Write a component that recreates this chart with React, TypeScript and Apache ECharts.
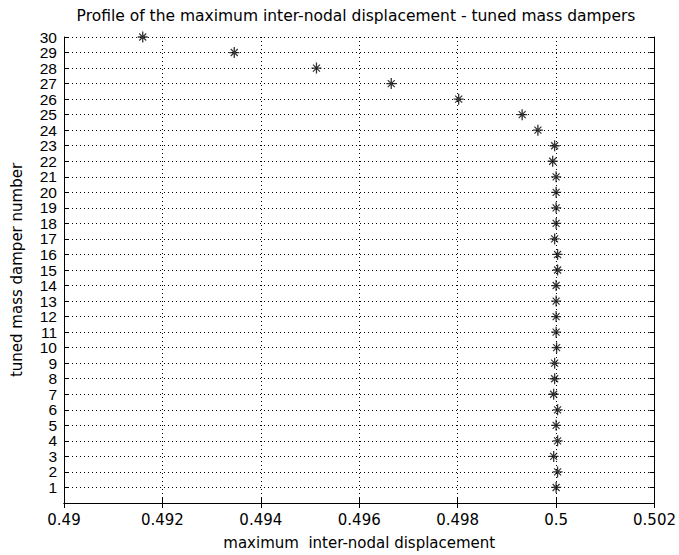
import React, { useEffect, useRef } from "react";
import * as echarts from "echarts";

const damperNumbers = [
  1, 2, 3, 4, 5, 6, 7, 8, 9, 10, 11, 12, 13, 14, 15,
  16, 17, 18, 19, 20, 21, 22, 23, 24, 25, 26, 27, 28, 29, 30,
];
const maxDisplacement = [
  0.5, 0.50003, 0.49995, 0.50003, 0.5, 0.50003, 0.49995, 0.49997, 0.49997, 0.50001,
  0.5, 0.5, 0.5, 0.5, 0.50003, 0.50003, 0.49997, 0.5, 0.5, 0.5,
  0.5, 0.49993, 0.49997, 0.49963, 0.49931, 0.49802, 0.49665, 0.49513, 0.49346, 0.4916,
];
const xTickLabels = ["0.49", "0.492", "0.494", "0.496", "0.498", "0.5", "0.502"];

const titleText = "Profile of the maximum inter-nodal displacement - tuned mass dampers";
const xName = "maximum  inter-nodal displacement";
const yName = "tuned mass damper number";

const starPath =
  "path://M-5,-0.65H5V0.65H-5Z M-0.65,-5.5H0.65V5.5H-0.65Z " +
  "M-3.08,-3.92L3.92,3.08L3.08,3.92L-3.92,-3.08Z " +
  "M3.08,-3.92L3.92,-3.08L-3.08,3.92L-3.92,3.08Z " +
  "M-1.5,-1.5H1.5V1.5H-1.5Z";

const FONT = "DejaVu Sans, Liberation Sans, Arial, sans-serif";
const NARROW = "Liberation Sans Narrow, Arial Narrow, Liberation Sans, Arial, sans-serif";

// a hair above 30 so that the "30" label is not treated as the axis' max label
const Y_MAX = 30.0001;

export default function App() {
  const ref = useRef<HTMLDivElement>(null);
  useEffect(() => {
    if (!ref.current) return;
    const chart = echarts.init(ref.current, undefined, { renderer: "svg" });
    const dotted = { color: "#000", width: 1, type: [1, 3] as any };
    const frame = { show: true, lineStyle: { color: "#000", width: 1 } };
    const tickIn = { show: true, inside: true, length: 5, lineStyle: { color: "#000" } };
    chart.setOption({
      animation: false,
      backgroundColor: "#fff",
      title: {
        text: titleText,
        left: 351,
        textAlign: "center",
        top: 3,
        textStyle: { fontFamily: FONT, fontSize: 15.5, fontWeight: "normal", color: "#000" },
      },
      grid: { left: 64, right: 22, top: 37, bottom: 50, containLabel: false },
      xAxis: [
        {
          type: "value",
          position: "bottom",
          min: 0.49,
          max: 0.502,
          interval: 0.002,
          axisLine: frame,
          axisTick: tickIn,
          axisLabel: {
            margin: 9,
            color: "#000",
            fontFamily: FONT,
            fontSize: 15,
            showMinLabel: true,
            showMaxLabel: true,
            hideOverlap: false,
            formatter: (v: number) => {
              const i = Math.round((v - 0.49) / 0.002);
              return xTickLabels[i] ?? "";
            },
          },
          splitLine: { show: true, lineStyle: dotted },
          name: xName,
          nameLocation: "middle",
          nameGap: 32,
          nameTextStyle: { fontFamily: FONT, fontSize: 15, color: "#000" },
        },
        {
          type: "value",
          position: "top",
          min: 0.49,
          max: 0.502,
          interval: 0.002,
          axisLine: frame,
          axisTick: tickIn,
          axisLabel: { show: false },
          splitLine: { show: false },
        },
      ],
      yAxis: [
        {
          type: "value",
          position: "left",
          min: 0,
          max: Y_MAX,
          interval: 1,
          axisLine: frame,
          axisTick: tickIn,
          axisLabel: {
            margin: 7,
            color: "#000",
            fontFamily: NARROW,
            fontSize: 15.5,
            lineHeight: 13,
            showMinLabel: false,
            showMaxLabel: false,
            hideOverlap: false,
            formatter: (v: number) =>
              v === 0 || !Number.isInteger(v) ? "" : String(v),
          },
          splitLine: { show: true, lineStyle: dotted },
          name: yName,
          nameLocation: "middle",
          nameGap: 40,
          nameTextStyle: { fontFamily: FONT, fontSize: 15, color: "#000" },
        },
        {
          type: "value",
          position: "right",
          min: 0,
          max: Y_MAX,
          interval: 1,
          axisLine: frame,
          axisTick: tickIn,
          axisLabel: { show: false },
          splitLine: { show: false },
        },
      ],
      series: [
        {
          type: "scatter",
          xAxisIndex: 0,
          yAxisIndex: 0,
          symbol: starPath,
          symbolSize: [10, 11],
          symbolKeepAspect: false,
          itemStyle: { color: "#000" },
          data: damperNumbers.map((n, i) => [maxDisplacement[i], n]),
        },
      ],
    });
    return () => chart.dispose();
  }, []);
  return (
    <div
      ref={ref}
      style={{ position: "fixed", left: 0, top: 0, width: 679, height: 555, background: "#fff" }}
    />
  );
}
